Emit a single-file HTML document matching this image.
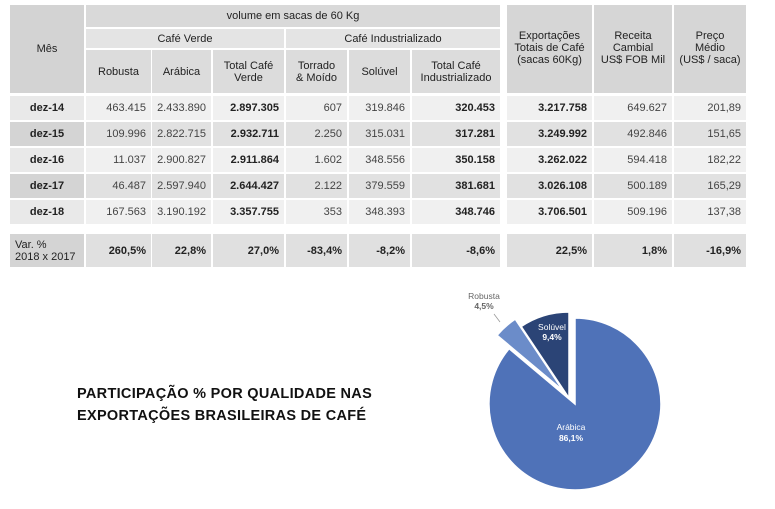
<!DOCTYPE html>
<html><head><meta charset="utf-8"><style>
body{margin:0;width:775px;height:509px;background:#fff;position:relative;overflow:hidden;font-family:"Liberation Sans",sans-serif;color:#222}
.c{position:absolute;display:flex;align-items:center;justify-content:center;text-align:center;font-size:11px;line-height:12px;box-sizing:border-box}
.r{justify-content:flex-end;padding-right:5px}
.b{font-weight:bold}
.t{position:absolute;left:77px;font-weight:bold;font-size:14.5px;letter-spacing:0.3px;color:#111}
</style></head><body>
<div class="c" style="left:10px;top:5px;width:74px;height:88px;background:#d3d3d3">Mês</div>
<div class="c" style="left:86px;top:5px;width:414px;height:22px;background:#d9d9d9">volume em sacas de 60 Kg</div>
<div class="c" style="left:86px;top:29px;width:198px;height:19px;background:#e4e4e4">Café Verde</div>
<div class="c" style="left:286px;top:29px;width:214px;height:19px;background:#e4e4e4">Café Industrializado</div>
<div class="c" style="left:86px;top:50px;width:65px;height:43px;background:#dcdcdc">Robusta</div>
<div class="c" style="left:152px;top:50px;width:59px;height:43px;background:#dcdcdc">Arábica</div>
<div class="c" style="left:213px;top:50px;width:71px;height:43px;background:#dcdcdc">Total Café<br>Verde</div>
<div class="c" style="left:286px;top:50px;width:61px;height:43px;background:#dcdcdc">Torrado<br>&amp; Moído</div>
<div class="c" style="left:349px;top:50px;width:61px;height:43px;background:#dcdcdc">Solúvel</div>
<div class="c" style="left:412px;top:50px;width:88px;height:43px;background:#dcdcdc">Total Café<br>Industrializado</div>
<div class="c" style="left:507px;top:5px;width:85px;height:88px;background:#d6d6d6;align-items:flex-start;padding-top:25px">Exportações<br>Totais de Café<br>(sacas 60Kg)</div>
<div class="c" style="left:594px;top:5px;width:78px;height:88px;background:#d6d6d6;align-items:flex-start;padding-top:25px">Receita<br>Cambial<br>US$ FOB Mil</div>
<div class="c" style="left:674px;top:5px;width:72px;height:88px;background:#d6d6d6;align-items:flex-start;padding-top:25px">Preço<br>Médio<br>(US$ / saca)</div>
<div id="rows"></div>
<div class="t" style="top:386px">PARTICIPAÇÃO % POR QUALIDADE NAS</div>
<div class="t" style="top:408px">EXPORTAÇÕES BRASILEIRAS DE CAFÉ</div>
<svg style="position:absolute;left:0;top:0" width="775" height="509">
<path d="M575,404 L575,318 A86,86 0 1 1 509.1,348.7 Z" fill="#4f72b8" stroke="#fff" stroke-width="1.5"/>
<path d="M569,398 L521.2,326.5 A86,86 0 0 1 569,312 Z" fill="#2b4476" stroke="#fff" stroke-width="1.5"/>
<path d="M563,390.6 L497.1,335.3 A86,86 0 0 1 515.2,319.1 Z" fill="#6b8cc9" stroke="#fff" stroke-width="1.5"/>
<line x1="500" y1="322" x2="494" y2="314" stroke="#999" stroke-width="0.8"/>
<g font-family="Liberation Sans,sans-serif" font-size="8.5" text-anchor="middle">
<text x="484" y="299" fill="#666">Robusta</text>
<text x="484" y="309" fill="#666" font-weight="bold">4,5%</text>
<text x="552" y="330" fill="#fff">Solúvel</text>
<text x="552" y="340" fill="#fff" font-weight="bold">9,4%</text>
<text x="571" y="430" fill="#fff">Arábica</text>
<text x="571" y="441" fill="#fff" font-weight="bold">86,1%</text>
</g>
</svg>
<script>
var d=[["dez-14","463.415","2.433.890","2.897.305","607","319.846","320.453","3.217.758","649.627","201,89"],
["dez-15","109.996","2.822.715","2.932.711","2.250","315.031","317.281","3.249.992","492.846","151,65"],
["dez-16","11.037","2.900.827","2.911.864","1.602","348.556","350.158","3.262.022","594.418","182,22"],
["dez-17","46.487","2.597.940","2.644.427","2.122","379.559","381.681","3.026.108","500.189","165,29"],
["dez-18","167.563","3.190.192","3.357.755","353","348.393","348.746","3.706.501","509.196","137,38"]];
var cols=[[10,74],[86,65],[152,59],[213,71],[286,61],[349,61],[412,88],[507,85],[594,78],[674,72]];
var bold=[0,3,6,7];var h="";
d.forEach(function(r,i){var y=96+i*26;var odd=i%2==0;
r.forEach(function(v,j){var bg=j==0?(odd?"#e9e9e9":"#d4d4d4"):(odd?"#f0f0f0":"#e1e1e1");
h+='<div class="c '+(j>0?'r ':'')+(bold.indexOf(j)>=0?'b':'')+'" style="left:'+cols[j][0]+'px;top:'+y+'px;width:'+cols[j][1]+'px;height:24px;background:'+bg+';'+(j>0&&bold.indexOf(j)<0?'color:#444':'')+'">'+v+'</div>';});});
var v=["Var. %<br>2018&nbsp;x&nbsp;2017","260,5%","22,8%","27,0%","-83,4%","-8,2%","-8,6%","22,5%","1,8%","-16,9%"];
v.forEach(function(t,j){h+='<div class="c b '+(j>0?'r':'')+'" style="left:'+cols[j][0]+'px;top:234px;width:'+cols[j][1]+'px;height:33px;background:'+(j==0?'#d4d4d4':'#e0e0e0')+';'+(j==0?'justify-content:flex-start;padding-left:5px;text-align:left;font-weight:normal;white-space:nowrap':'')+'">'+t+'</div>';});
document.getElementById("rows").innerHTML=h;
</script>
</body></html>
